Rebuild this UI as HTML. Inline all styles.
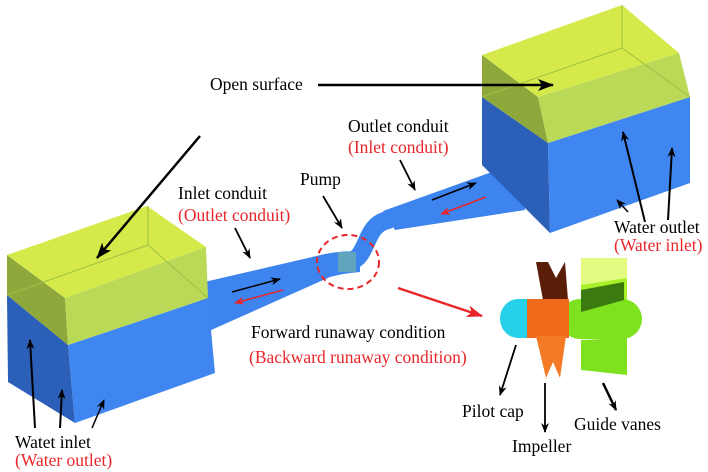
<!DOCTYPE html>
<html><head><meta charset="utf-8"><style>
html,body{margin:0;padding:0;background:#fff}
svg{display:block}
text{font-family:"Liberation Serif",serif;font-size:17.5px}
.r{fill:#e8262a}
</style></head><body>
<svg width="708" height="472" viewBox="0 0 708 472" xmlns="http://www.w3.org/2000/svg">
<defs>
<marker id="ak" markerWidth="10" markerHeight="8" refX="9" refY="4" orient="auto" markerUnits="userSpaceOnUse"><path d="M0,0 L10,4 L0,8 L3,4z" fill="#000"/></marker>
<marker id="akb" markerWidth="16" markerHeight="12" refX="15" refY="6" orient="auto" markerUnits="userSpaceOnUse"><path d="M0,0 L16,6 L0,12 L4,6z" fill="#000"/></marker>
<marker id="ar" markerWidth="10" markerHeight="8" refX="9" refY="4" orient="auto" markerUnits="userSpaceOnUse"><path d="M0,0 L10,4 L0,8 L3,4z" fill="#e8262a"/></marker>
<marker id="arb" markerWidth="16" markerHeight="12" refX="15" refY="6" orient="auto" markerUnits="userSpaceOnUse"><path d="M0,0 L16,6 L0,12 L4,6z" fill="#e8262a"/></marker>
</defs>

<!-- pipes -->
<path d="M200,283 L325,254 Q345,250 360,252 L360,272 Q345,273 330,277 L200,335 Z" fill="#3d84ee"/>
<path d="M345,262 C370,262 362,225 388,220" stroke="#3d84ee" stroke-width="18" fill="none" stroke-linecap="round"/>
<path d="M383,211 L520,162 L525,210 L395,230 Z" fill="#3d84ee"/>
<rect x="338" y="252" width="18" height="20" fill="#6fb2a8" opacity="0.7"/>

<!-- left box -->
<polygon points="7,295 68,345 75,423 8,382" fill="#2b5fb8"/>
<polygon points="68,345 208,298 215,373 75,423" fill="#3f86f0"/>
<polygon points="7,255 65,298 68,345 7,295" fill="#8ea83c"/>
<polygon points="65,298 206,247 208,298 68,345" fill="#b9d957"/>
<polygon points="7,255 147,206 206,247 65,298" fill="#d5ea4a"/>
<line x1="7" y1="295" x2="148" y2="245" stroke="#9fbf45" stroke-width="1"/>
<line x1="148" y1="206" x2="148" y2="245" stroke="#9fbf45" stroke-width="1"/>
<line x1="148" y1="245" x2="208" y2="298" stroke="#9fbf45" stroke-width="1"/>

<!-- right box -->
<polygon points="482,97 548,143 550,233 482,165" fill="#2b5fb8"/>
<polygon points="548,143 690,97 690,183 550,233" fill="#3f86f0"/>
<polygon points="482,55 538,97 548,143 482,97" fill="#8ea83c"/>
<polygon points="538,97 679,53 690,97 548,143" fill="#b9d957"/>
<polygon points="482,55 622,5 679,53 538,97" fill="#d5ea4a"/>
<line x1="482" y1="97" x2="622" y2="48" stroke="#9fbf45"/>
<line x1="622" y1="5" x2="622" y2="48" stroke="#9fbf45"/>
<line x1="622" y1="48" x2="690" y2="97" stroke="#9fbf45"/>
<rect x="500" y="148" width="8" height="20" fill="#2b5fb8"/>

<!-- pump circle -->
<ellipse cx="348" cy="262" rx="31" ry="27" fill="none" stroke="#e8262a" stroke-width="2" stroke-dasharray="6,4"/>

<!-- flow arrows -->
<line x1="232" y1="292" x2="280" y2="279" stroke="#000" stroke-width="1.5" marker-end="url(#ak)"/>
<line x1="283" y1="290" x2="235" y2="303" stroke="#e8262a" stroke-width="1.5" marker-end="url(#ar)"/>
<line x1="432" y1="200" x2="476" y2="183" stroke="#000" stroke-width="1.5" marker-end="url(#ak)"/>
<line x1="486" y1="197" x2="441" y2="214" stroke="#e8262a" stroke-width="1.5" marker-end="url(#ar)"/>

<!-- pump detail -->
<path d="M536,262 L543,300 L568,300 L565,262 L556,278 L548,262 Z" fill="#5a1e08"/>
<path d="M581,258 L627,258 L627,300 L581,300 Z" fill="#a7f02a"/>
<path d="M581,258 L627,258 L627,278 L581,285 Z" fill="#e3fb80"/>
<rect x="560" y="299" width="82" height="40" rx="20" fill="#7ee21f"/>
<path d="M518,299 L528,299 L528,338 L518,338 A18,19.5 0 0 1 518,299 Z" fill="#25d0e8"/>
<rect x="527" y="299" width="42" height="39" fill="#f06a1c"/>
<path d="M536,336 L566,336 L560,378 L553,362 L546,378 Z" fill="#f57a25"/>
<path d="M581,340 L627,338 L627,375 L581,370 Z" fill="#7ee21f"/>
<path d="M581,290 L624,282 L624,300 L581,312 Z" fill="#3a7a10"/>

<!-- label arrows -->
<line x1="318" y1="85" x2="553" y2="85" stroke="#000" stroke-width="2.5" marker-end="url(#akb)"/>
<line x1="200" y1="136" x2="97" y2="258" stroke="#000" stroke-width="2.5" marker-end="url(#akb)"/>
<line x1="400" y1="160" x2="415" y2="190" stroke="#000" stroke-width="1.8" marker-end="url(#ak)"/>
<line x1="235" y1="228" x2="250" y2="258" stroke="#000" stroke-width="1.8" marker-end="url(#ak)"/>
<line x1="323" y1="196" x2="342" y2="228" stroke="#000" stroke-width="1.8" marker-end="url(#ak)"/>
<line x1="398" y1="288" x2="482" y2="316" stroke="#e8262a" stroke-width="2.5" marker-end="url(#arb)"/>
<line x1="645" y1="222" x2="623" y2="132" stroke="#000" stroke-width="2" marker-end="url(#ak)"/>
<line x1="668" y1="220" x2="672" y2="148" stroke="#000" stroke-width="2" marker-end="url(#ak)"/>
<line x1="628" y1="212" x2="617" y2="200" stroke="#000" stroke-width="1.5" marker-end="url(#ak)"/>
<line x1="35" y1="428" x2="30" y2="340" stroke="#000" stroke-width="2" marker-end="url(#ak)"/>
<line x1="60" y1="428" x2="62" y2="390" stroke="#000" stroke-width="2" marker-end="url(#ak)"/>
<line x1="92" y1="428" x2="104" y2="400" stroke="#000" stroke-width="1.5" marker-end="url(#ak)"/>
<line x1="516" y1="345" x2="500" y2="395" stroke="#000" stroke-width="1.8" marker-end="url(#ak)"/>
<line x1="545" y1="383" x2="545" y2="432" stroke="#000" stroke-width="1.8" marker-end="url(#ak)"/>
<line x1="603" y1="383" x2="616" y2="410" stroke="#000" stroke-width="2.5" marker-end="url(#ak)"/>

<!-- labels -->
<text x="210" y="90">Open surface</text>
<text x="348" y="132">Outlet conduit</text>
<text x="348" y="153" class="r">(Inlet conduit)</text>
<text x="300" y="185">Pump</text>
<text x="178" y="199">Inlet conduit</text>
<text x="178" y="221" class="r">(Outlet conduit)</text>
<text x="251" y="338">Forward runaway condition</text>
<text x="249" y="363" class="r">(Backward runaway condition)</text>
<text x="614" y="233">Water outlet</text>
<text x="614" y="251" class="r">(Water inlet)</text>
<text x="462" y="417">Pilot cap</text>
<text x="574" y="430">Guide vanes</text>
<text x="512" y="452">Impeller</text>
<text x="15" y="448">Watet inlet</text>
<text x="15" y="466" class="r">(Water outlet)</text>
</svg>
</body></html>
